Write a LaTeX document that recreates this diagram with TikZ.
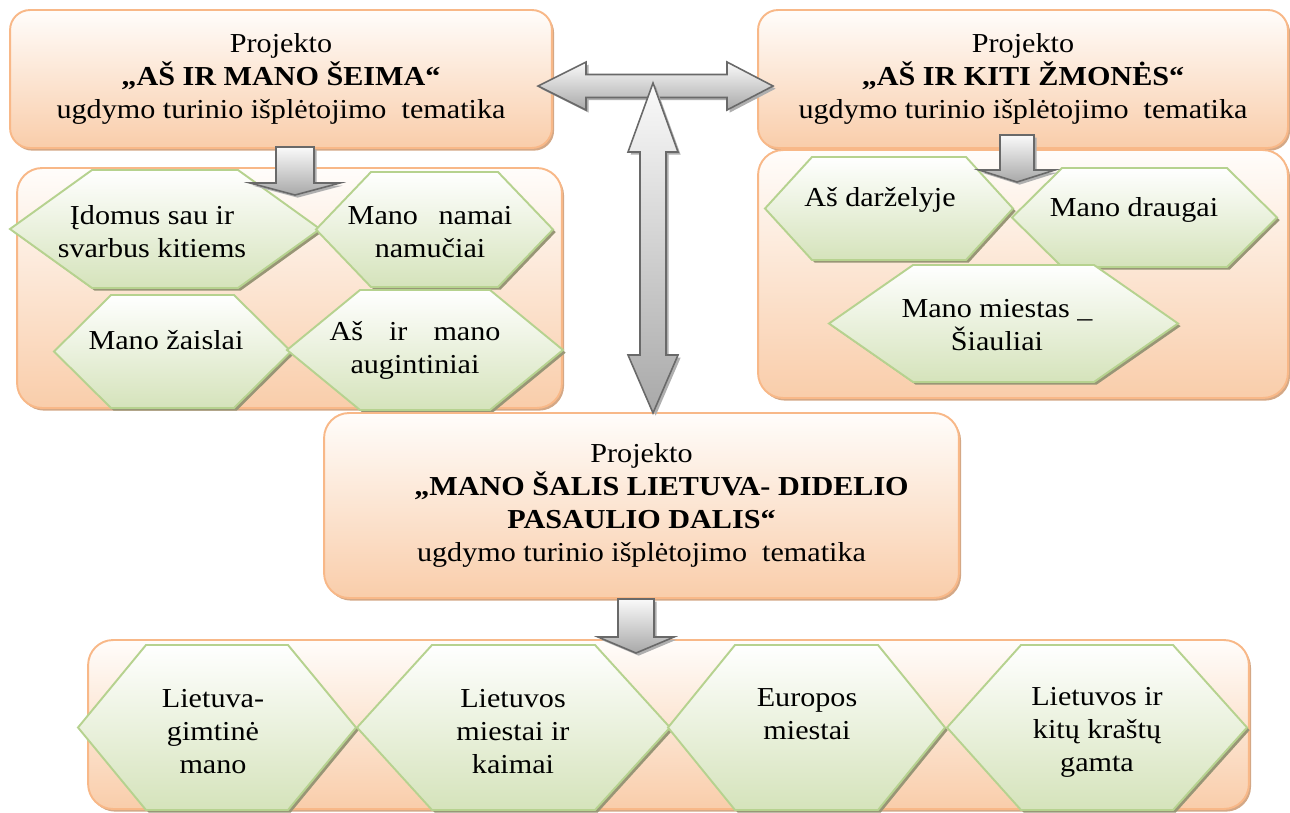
\documentclass[tikz,border=0pt]{standalone}
\usepackage{fontspec}
\setmainfont{Liberation Serif}[FakeStretch=1.1]
\usepackage{xcolor}
\usetikzlibrary{shadows}

\definecolor{boxline}{RGB}{248,184,136}
\definecolor{boxtop}{RGB}{255,253,251}
\definecolor{boxbot}{RGB}{249,205,170}
\definecolor{boxshd}{RGB}{212,168,134}
\definecolor{hexline}{RGB}{182,210,143}
\definecolor{hexbot}{RGB}{213,227,187}
\definecolor{hexshd}{RGB}{152,150,118}
\definecolor{arrline}{RGB}{105,105,105}
\definecolor{arrshd}{RGB}{175,175,175}

\tikzset{
  projbox/.style={draw=boxline,line width=1.1pt,top color=boxtop,bottom color=boxbot,
    rounded corners=0.4cm,inner sep=0pt,align=center,
    general shadow={fill=boxshd,shadow xshift=1.2pt,shadow yshift=-1.5pt}},
  hexa/.style={draw=hexline,line width=1.1pt,top color=white,bottom color=hexbot,
    general shadow={fill=hexshd,shadow xshift=1.5pt,shadow yshift=-1.5pt}},
  hextext/.style={align=center,inner sep=0pt},
  blockarr/.style={draw=arrline,line width=0.9pt,top color=gray!4,bottom color=gray!68,
    general shadow={fill=arrshd,shadow xshift=1.5pt,shadow yshift=-1.5pt}}
}

\begin{document}
\begin{tikzpicture}[x=0.02cm,y=-0.02cm,font=\fontsize{15.6}{18.8}\selectfont]
\useasboundingbox (0,0) rectangle (1290,812);

\node [projbox,minimum width=10.84cm,minimum height=2.76cm] (seima) at (281,79)
    {Projekto\\\textbf{„AŠ IR MANO ŠEIMA“}\\ugdymo turinio išplėtojimo\ \ tematika};
\node [projbox,minimum width=10.6cm,minimum height=2.76cm] (zmones) at (1023,79)
    {Projekto\\\textbf{„AŠ IR KITI ŽMONĖS“}\\ugdymo turinio išplėtojimo\ \ tematika};
\node [projbox,rounded corners=0.5cm,minimum width=10.9cm,minimum height=4.8cm] (seimagrp) at (289.5,288) {};
\node [projbox,rounded corners=0.5cm,minimum width=10.6cm,minimum height=4.96cm] (zmonesgrp) at (1023,274) {};

\foreach \cx/\cy/\w/\h/\i in {165/229/155/59/82, 434.5/229.5/118.5/57.5/55,
    172.5/351.5/118.5/56.5/57, 425/350/138/60/73,
    889/208.5/124/51.5/47, 1144.5/217.5/132.5/49.5/50, 1003.5/323.5/174.5/58.5/84}
  \draw [hexa] (\cx-\w,\cy) -- (\cx-\w+\i,\cy-\h) -- (\cx+\w-\i,\cy-\h) -- (\cx+\w,\cy)
    -- (\cx+\w-\i,\cy+\h) -- (\cx-\w+\i,\cy+\h) -- cycle;

\node [hextext] (idomus) at (152,232) {Įdomus sau ir\\svarbus kitiems};
\node [hextext] (namai) at (430,232) {Mano\hspace{0.75em}namai\\namučiai};
\node [hextext] (zaislai) at (166,340) {Mano žaislai};
\node [hextext] (augintiniai) at (415,350) {Aš\hspace{0.95em}ir\hspace{0.95em}mano\\augintiniai};
\node [hextext] (darzelis) at (880,200) {Aš darželyje};
\node [hextext] (draugai) at (1134,210) {Mano draugai};
\node [hextext] (miestas) at (997,325) {Mano miestas \_\\Šiauliai};

\node [projbox,rounded corners=0.5cm,minimum width=12.7cm,minimum height=3.7cm] (salis) at (641.5,505.5)
    {Projekto\\\hspace*{0.8cm}\textbf{„MANO ŠALIS LIETUVA- DIDELIO}\\\textbf{PASAULIO DALIS“}\\ugdymo turinio išplėtojimo\ \ tematika};
\node [projbox,rounded corners=0.5cm,minimum width=23.22cm,minimum height=3.38cm] (salisgrp) at (668.5,724.5) {};

\foreach \cx/\w/\i in {217/139/68, 513.5/156.5/75, 806.5/138.5/67, 1097/150/74}
  \draw [hexa] (\cx-\w,727.5) -- (\cx-\w+\i,645) -- (\cx+\w-\i,645) -- (\cx+\w,727.5)
    -- (\cx+\w-\i,810) -- (\cx-\w+\i,810) -- cycle;

\node [hextext] (gimtine) at (213,732) {Lietuva-\\gimtinė\\mano};
\node [hextext] (kaimai) at (513,732) {Lietuvos\\miestai ir\\kaimai};
\node [hextext] (europa) at (807,714.5) {Europos\\miestai};
\node [hextext] (gamta) at (1097,732) {Lietuvos ir\\kitų kraštų\\gamta};

\foreach \ax/\ya/\yb/\yc/\sw/\hw in {295/147/183/195/19/45, 1017/135/170/182/17/38, 636/599/637/653/18/38}
  \draw [blockarr] (\ax-\sw,\ya) -- (\ax+\sw,\ya) -- (\ax+\sw,\yb) -- (\ax+\hw,\yb) -- (\ax,\yc)
    -- (\ax-\hw,\yb) -- (\ax-\sw,\yb) -- cycle;

\draw [blockarr] (538,86) -- (586,62) -- (586,74.5) -- (727,74.5) -- (727,62) -- (773,86)
    -- (727,110) -- (727,97.5) -- (586,97.5) -- (586,110) -- cycle;
\draw [blockarr] (653,83) -- (678,152) -- (666,152) -- (666,355) -- (678,355) -- (653,413)
    -- (628,355) -- (640,355) -- (640,152) -- (628,152) -- cycle;
\end{tikzpicture}
\end{document}
